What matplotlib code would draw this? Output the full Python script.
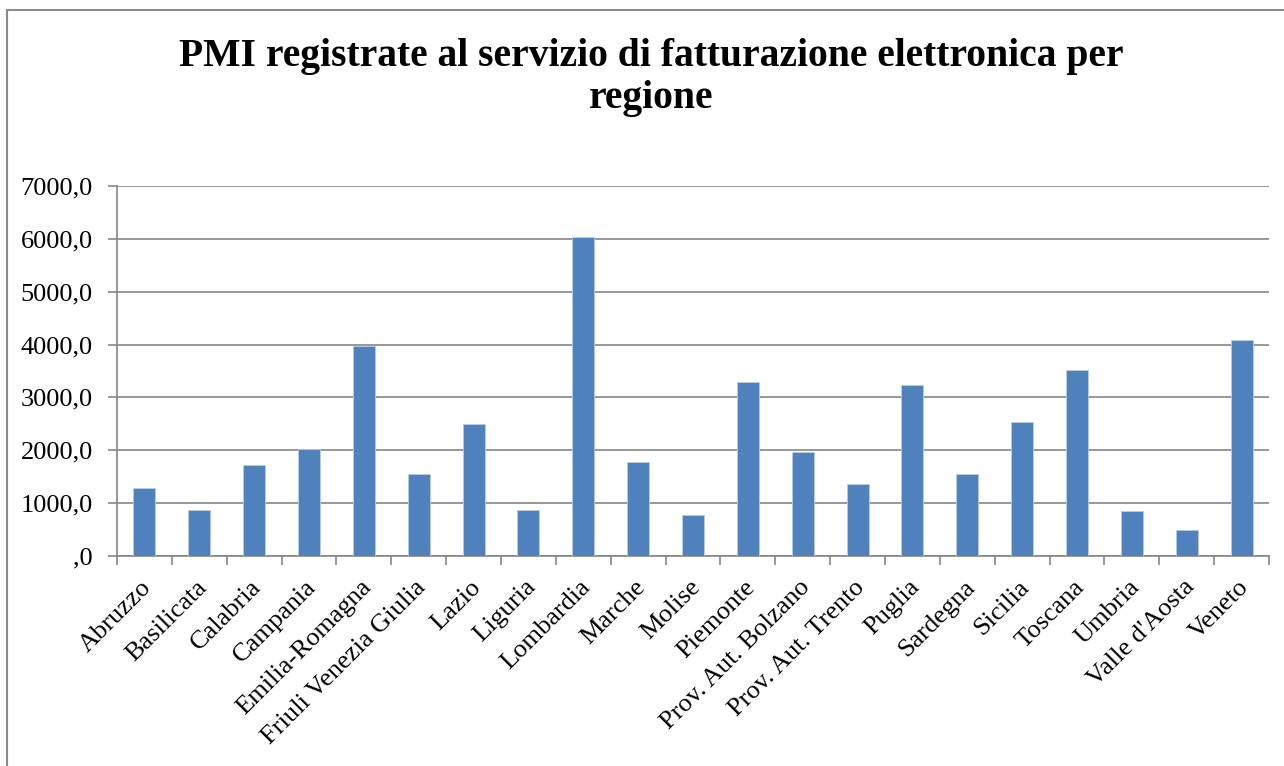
import matplotlib.pyplot as plt
from matplotlib.patches import Rectangle
from matplotlib.ticker import FuncFormatter, FixedLocator
from matplotlib.transforms import ScaledTranslation

regioni = ["Abruzzo", "Basilicata", "Calabria", "Campania", "Emilia-Romagna",
           "Friuli Venezia Giulia", "Lazio", "Liguria", "Lombardia", "Marche",
           "Molise", "Piemonte", "Prov. Aut. Bolzano", "Prov. Aut. Trento",
           "Puglia", "Sardegna", "Sicilia", "Toscana", "Umbria",
           "Valle d'Aosta", "Veneto"]
pmi = [1280, 870, 1715, 2030, 3980, 1550, 2490, 875, 6035, 1780,
       775, 3290, 1975, 1355, 3235, 1545, 2530, 3525, 855, 485, 4085]
y_ticks = [0, 1000, 2000, 3000, 4000, 5000, 6000, 7000]

title_lines = ["PMI registrate al servizio di fatturazione elettronica per", "regione"]

W, H = 1284, 766
SERIF = "Liberation Serif"
GREY = "#868686"

fig = plt.figure(figsize=(W / 100, H / 100), dpi=100)
fig.patch.set_facecolor("white")

# bordo dell'area grafico (destra e basso tagliati nell'originale)
fig.patches.append(Rectangle((7 / W, -0.1), 1.2, 1 - 10 / H + 0.1,
                             transform=fig.transFigure, fill=False,
                             edgecolor="#8c8c8c", linewidth=1.5))

ax = fig.add_axes([117 / W, 1 - 556 / H, (1269 - 117) / W, (556 - 186) / H])

x = list(range(len(regioni)))
ax.bar(x, pmi, width=0.4, color="#4f81bd", edgecolor="#b9cde5", linewidth=0.6, zorder=3)

ax.set_xlim(-0.5, len(regioni) - 0.5)
ax.set_ylim(0, 7000)
ax.set_yticks(y_ticks)
ax.yaxis.set_major_formatter(FuncFormatter(lambda v, p: ("%d,0" % v) if v else ",0"))
ax.yaxis.grid(True, color=GREY, linewidth=1.2, zorder=0)

for s in ["top", "right"]:
    ax.spines[s].set_visible(False)
for s in ["bottom", "left"]:
    ax.spines[s].set_color(GREY)
    ax.spines[s].set_linewidth(1.2)

ax.tick_params(axis="y", length=6.5, width=1.2, color=GREY, pad=11, labelsize=19)
ax.set_xticks(x)
ax.set_xticklabels(regioni, rotation=45, ha="right", va="center",
                   rotation_mode="anchor", fontsize=19)
ax.tick_params(axis="x", length=0, pad=20)
ax.xaxis.set_minor_locator(FixedLocator([i - 0.5 for i in range(len(regioni) + 1)]))
ax.tick_params(axis="x", which="minor", length=6.5, width=1.2, color=GREY, direction="out")

shift = ScaledTranslation(4 / 100, 0, fig.dpi_scale_trans)
for lbl in ax.get_xticklabels():
    lbl.set_family(SERIF)
    lbl.set_transform(lbl.get_transform() + shift)
for lbl in ax.get_yticklabels():
    lbl.set_family(SERIF)

fig.text(651 / W, 1 - 66 / H, title_lines[0], ha="center", va="baseline",
         fontsize=28.5, fontweight="bold", family=SERIF)
fig.text(651 / W, 1 - 108 / H, title_lines[1], ha="center", va="baseline",
         fontsize=28.5, fontweight="bold", family=SERIF)

fig.savefig("out.png", dpi=100)
